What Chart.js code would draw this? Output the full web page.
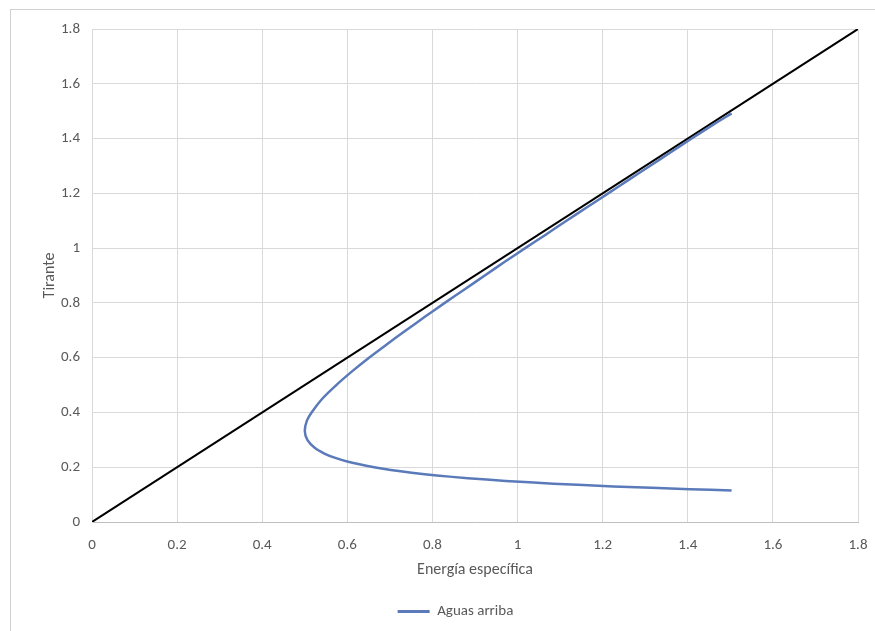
<!DOCTYPE html>
<html>
<head>
<meta charset="utf-8">
<script src="https://cdn.jsdelivr.net/npm/chart.js@4/dist/chart.umd.min.js"></script>
<style>
html,body{margin:0;padding:0;background:#fff;overflow:hidden;}
#frame{position:absolute;left:10px;top:9px;width:900px;height:700px;border:1px solid #d0d0d0;box-sizing:border-box;}
#wrap{position:absolute;left:0;top:0;width:875px;height:631px;}
</style>
</head>
<body>
<div id="frame"></div>
<div id="wrap"><canvas id="c" width="875" height="631"></canvas></div>
<script>
// Energía específica (x) vs Tirante (y)
const energia = [1.503, 1.459, 1.409, 1.360, 1.311, 1.262, 1.213, 1.164, 1.115, 1.067, 1.018, 0.970, 0.923, 0.876, 0.829, 0.783, 0.738, 0.694, 0.651, 0.611, 0.574, 0.541, 0.516, 0.505, 0.500, 0.506, 0.524, 0.546, 0.570, 0.602, 0.663, 0.702, 0.751, 0.810, 0.883, 0.972, 1.084, 1.225, 1.405, 1.503];
const tirante = [1.492, 1.450, 1.400, 1.350, 1.300, 1.250, 1.200, 1.150, 1.100, 1.050, 1.000, 0.950, 0.900, 0.850, 0.800, 0.750, 0.700, 0.650, 0.600, 0.550, 0.500, 0.450, 0.400, 0.370, 0.333, 0.300, 0.270, 0.250, 0.235, 0.220, 0.200, 0.190, 0.180, 0.170, 0.160, 0.150, 0.140, 0.130, 0.120, 0.115];
const refX = [0, 1.8];
const refY = [0, 1.8];
const seriesName = 'Aguas arriba';
const xTitle = 'Energía específica';
const yTitle = 'Tirante';

const font = "Carlito, 'Liberation Sans Narrow', 'Open Sans', sans-serif";

const ctx = document.getElementById('c');
new Chart(ctx, {
  type: 'scatter',
  data: {
    datasets: [
      {
        label: seriesName,
        data: energia.map((e, i) => ({x: e, y: tirante[i]})),
        showLine: true,
        borderColor: '#5b7ab9',
        backgroundColor: '#5b7ab9',
        borderWidth: 2.5,
        pointRadius: 0,
        tension: 0.3
      },
      {
        label: 'ref',
        data: refX.map((e, i) => ({x: e, y: refY[i]})),
        showLine: true,
        borderColor: '#000000',
        backgroundColor: '#000000',
        borderWidth: 2,
        pointRadius: 0,
        tension: 0
      }
    ]
  },
  options: {
    responsive: false,
    animation: false,
    layout: {padding: {left: 36, top: 29, right: 0, bottom: 2}},
    plugins: {
      legend: {
        position: 'bottom',
        labels: {
          boxWidth: 32, boxHeight: 0,
          color: '#595959',
          font: {family: font, size: 15},
          padding: 4,
          generateLabels: (chart) => {
            const ds = chart.data.datasets[0];
            return [{text: ds.label, strokeStyle: ds.borderColor, fillStyle: ds.borderColor, fontColor: '#595959', lineWidth: 3, datasetIndex: 0}];
          }
        }
      },
      tooltip: {enabled: false}
    },
    scales: {
      x: {
        type: 'linear', min: 0, max: 1.8,
        ticks: {stepSize: 0.2, color: '#595959', font: {family: font, size: 15}, padding: 14,
          callback: v => Math.round(v * 10) / 10},
        grid: {color: '#d9d9d9', lineWidth: 1, drawTicks: false},
        border: {color: '#bfbfbf'},
        title: {display: true, text: xTitle, color: '#595959', font: {family: font, size: 16}, padding: {top: 0, bottom: 20}},
        afterFit: s => { s.height = 78; s.paddingRight = 17; s.paddingLeft = 0; }
      },
      y: {
        type: 'linear', min: 0, max: 1.8,
        ticks: {stepSize: 0.2, color: '#595959', font: {family: font, size: 15}, padding: 12,
          callback: v => Math.round(v * 10) / 10},
        grid: {color: '#d9d9d9', lineWidth: 1, drawTicks: false},
        border: {color: '#d9d9d9'},
        title: {display: true, text: yTitle, color: '#595959', font: {family: font, size: 16}},
        afterFit: s => { s.width = 56; }
      }
    }
  }
});
</script>
</body>
</html>
